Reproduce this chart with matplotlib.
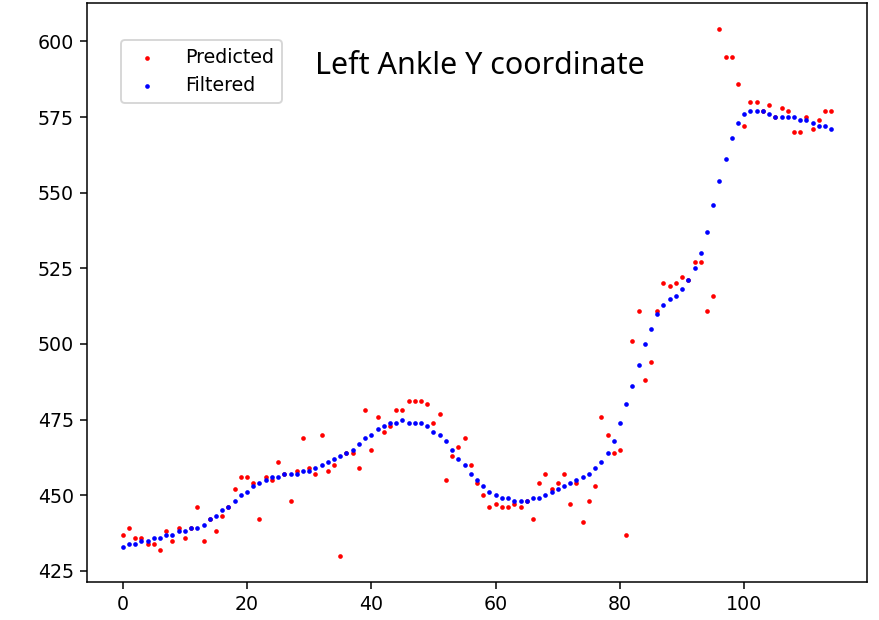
import matplotlib
matplotlib.use("Agg")
import matplotlib.pyplot as plt
import numpy as np

# Frame index of each sample
frames = list(range(115))

# Raw per-frame predictions of the left ankle y coordinate (pixels)
predicted = [
    437, 439, 436, 436, 434, 434, 432, 438, 435, 439,
    436, 439, 446, 435, 442, 438, 443, 446, 452, 456,
    456, 454, 442, 456, 455, 461, 457, 448, 458, 469,
    459, 457, 470, 458, 460, 430, 464, 464, 459, 478,
    465, 476, 471, 473, 478, 478, 481, 481, 481, 480,
    474, 477, 455, 463, 466, 469, 460, 454, 450, 446,
    447, 446, 446, 447, 446, 448, 442, 454, 457, 452,
    454, 457, 447, 454, 441, 448, 453, 476, 470, 464,
    465, 437, 501, 511, 488, 494, 511, 520, 519, 520,
    522, 521, 527, 527, 511, 516, 604, 595, 595, 586,
    572, 580, 580, 577, 579, 575, 578, 577, 570, 570,
    575, 571, 574, 577, 577,
]

# Smoothed output of the filter for the same frames
filtered = [
    433, 434, 434, 435, 435, 436, 436, 437, 437, 438,
    438, 439, 439, 440, 442, 443, 445, 446, 448, 450,
    451, 453, 454, 455, 456, 456, 457, 457, 457, 458,
    458, 459, 460, 461, 462, 463, 464, 465, 467, 469,
    470, 472, 473, 474, 474, 475, 474, 474, 474, 473,
    471, 470, 468, 465, 462, 460, 457, 455, 453, 451,
    450, 449, 449, 448, 448, 448, 449, 449, 450, 451,
    452, 453, 454, 455, 456, 457, 459, 461, 464, 468,
    474, 480, 486, 493, 500, 505, 510, 513, 515, 516,
    518, 521, 525, 530, 537, 546, 554, 561, 568, 573,
    576, 577, 577, 577, 576, 575, 575, 575, 575, 574,
    574, 573, 572, 572, 571,
]

DPI = 137
fig = plt.figure(figsize=(879 / DPI, 620 / DPI), dpi=DPI)
ax = fig.add_axes([87.3 / 879, 38 / 620, 779.4 / 879, 579 / 620])

ax.scatter(frames, predicted, s=6, color="red", linewidths=0, label="Predicted")
ax.scatter(frames, filtered, s=6, color="blue", linewidths=0, label="Filtered")

ax.legend(loc="upper left", bbox_to_anchor=(0.0307, 0.9525), handletextpad=1.0)

ax.text(0.5039, 0.8774, "Left Ankle Y coordinate", transform=ax.transAxes,
        ha="center", va="baseline", fontsize=16, family=["Noto Sans", "DejaVu Sans"])

fig.savefig("out.png", dpi=DPI)
